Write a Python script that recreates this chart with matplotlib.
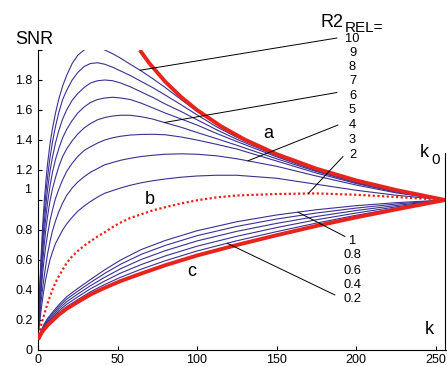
import numpy as np
import matplotlib
matplotlib.use('Agg')
import matplotlib.pyplot as plt

plt.rcParams['font.family'] = ['Liberation Sans', 'DejaVu Sans']

# ---------------- data ----------------
K0 = 256

# upper family (R2_REL = 10 ... 3) and curve b (R2_REL = 2)
k_up = [0, 0.5, 1, 2, 3, 4, 5, 6, 7.5, 9, 11, 13, 15.5, 18, 21.5, 25, 29, 33, 37.5, 42,
        47, 52, 58, 65, 72, 80, 90, 100, 112, 125, 150, 175, 200, 225, 256]
snr_r10 = [0.07, 0.27, 0.40, 0.64, 0.84, 1.00, 1.13, 1.24, 1.37, 1.47, 1.58, 1.67, 1.76, 1.83, 1.91,
           1.965, 2.0, 2.02, 2.02, 2.0, 1.975, 1.945, 1.905, 1.86, 1.81, 1.75, 1.67, 1.59, 1.505, 1.425,
           1.303, 1.207, 1.13, 1.066, 1.0]
snr_r9 = [0.07, 0.25, 0.37, 0.59, 0.78, 0.93, 1.05, 1.15, 1.28, 1.38, 1.49, 1.58, 1.67, 1.73, 1.80,
          1.85, 1.89, 1.91, 1.915, 1.905, 1.885, 1.86, 1.83, 1.79, 1.75, 1.70, 1.635, 1.568, 1.49, 1.418,
          1.30, 1.205, 1.128, 1.065, 1.0]
snr_r8 = [0.07, 0.235, 0.34, 0.55, 0.72, 0.86, 0.97, 1.07, 1.19, 1.28, 1.38, 1.46, 1.54, 1.60, 1.665,
          1.71, 1.75, 1.78, 1.795, 1.80, 1.795, 1.78, 1.755, 1.72, 1.685, 1.64, 1.59, 1.535, 1.47, 1.405,
          1.295, 1.20, 1.125, 1.063, 1.0]
snr_r7 = [0.07, 0.22, 0.31, 0.50, 0.66, 0.79, 0.89, 0.98, 1.09, 1.18, 1.27, 1.34, 1.415, 1.47, 1.53,
          1.58, 1.62, 1.65, 1.67, 1.68, 1.685, 1.68, 1.67, 1.645, 1.615, 1.58, 1.54, 1.50, 1.445, 1.39,
          1.288, 1.195, 1.12, 1.06, 1.0]
snr_r6 = [0.07, 0.20, 0.28, 0.45, 0.59, 0.71, 0.81, 0.89, 0.99, 1.07, 1.15, 1.22, 1.29, 1.34, 1.395,
          1.44, 1.48, 1.51, 1.535, 1.55, 1.56, 1.565, 1.565, 1.555, 1.54, 1.515, 1.485, 1.45, 1.41, 1.365,
          1.275, 1.19, 1.115, 1.057, 1.0]
snr_r5 = [0.07, 0.18, 0.25, 0.40, 0.52, 0.62, 0.70, 0.77, 0.86, 0.93, 1.01, 1.07, 1.135, 1.19, 1.245,
          1.29, 1.33, 1.355, 1.38, 1.40, 1.415, 1.425, 1.433, 1.437, 1.438, 1.435, 1.42, 1.40, 1.372, 1.34,
          1.26, 1.18, 1.11, 1.053, 1.0]
snr_r4 = [0.07, 0.16, 0.21, 0.33, 0.42, 0.50, 0.57, 0.64, 0.72, 0.79, 0.86, 0.92, 0.98, 1.03, 1.08,
          1.12, 1.155, 1.185, 1.21, 1.235, 1.25, 1.265, 1.278, 1.29, 1.298, 1.305, 1.308, 1.305, 1.295, 1.275,
          1.225, 1.16, 1.10, 1.048, 1.0]
snr_r3 = [0.07, 0.14, 0.18, 0.27, 0.35, 0.42, 0.48, 0.53, 0.60, 0.65, 0.71, 0.75, 0.80, 0.84, 0.885,
          0.925, 0.96, 0.99, 1.02, 1.045, 1.063, 1.08, 1.098, 1.115, 1.128, 1.14, 1.152, 1.16, 1.165, 1.165,
          1.145, 1.105, 1.065, 1.032, 1.0]
snr_b = [0.07, 0.10, 0.12, 0.17, 0.205, 0.24, 0.275, 0.31, 0.355, 0.40, 0.45, 0.49, 0.535, 0.58, 0.625,
         0.66, 0.695, 0.725, 0.757, 0.785, 0.82, 0.85, 0.88, 0.905, 0.93, 0.952, 0.977, 0.998, 1.017, 1.03,
         1.04, 1.044, 1.035, 1.02, 1.0]

# lower family (R2_REL = 1 ... 0.2) and curve c
k_low = [0, 1, 2, 4, 6, 9, 13, 18, 25, 33, 42, 52, 65, 80, 100, 125, 150, 175, 200, 225, 256]
snr_r1 = [0.07, 0.10, 0.13, 0.175, 0.21, 0.25, 0.30, 0.355, 0.41, 0.47, 0.535, 0.60, 0.67, 0.73, 0.795, 0.855, 0.90, 0.935, 0.962, 0.982, 1.0]
snr_r08 = [0.07, 0.098, 0.126, 0.168, 0.201, 0.239, 0.287, 0.339, 0.392, 0.45, 0.511, 0.572, 0.638, 0.697, 0.762, 0.824, 0.873, 0.913, 0.946, 0.973, 1.0]
snr_r06 = [0.07, 0.096, 0.122, 0.160, 0.191, 0.227, 0.273, 0.322, 0.373, 0.429, 0.485, 0.542, 0.604, 0.662, 0.727, 0.791, 0.844, 0.890, 0.930, 0.963, 1.0]
snr_r04 = [0.07, 0.094, 0.118, 0.153, 0.182, 0.216, 0.259, 0.305, 0.354, 0.408, 0.46, 0.513, 0.57, 0.627, 0.692, 0.758, 0.816, 0.868, 0.913, 0.954, 1.0]
snr_r02 = [0.07, 0.092, 0.114, 0.146, 0.173, 0.205, 0.247, 0.289, 0.336, 0.388, 0.437, 0.485, 0.539, 0.595, 0.66, 0.728, 0.789, 0.846, 0.898, 0.945, 1.0]
snr_c = [0.07, 0.09, 0.11, 0.14, 0.165, 0.195, 0.235, 0.275, 0.32, 0.37, 0.415, 0.46, 0.51, 0.565, 0.63, 0.70, 0.765, 0.827, 0.884, 0.937, 1.0]

# curve a (upper envelope)
k_a = [64, 70, 80, 90, 100, 115, 130, 150, 175, 200, 225, 256]
snr_a = [2.0, 1.912, 1.789, 1.687, 1.60, 1.492, 1.403, 1.306, 1.209, 1.131, 1.067, 1.0]

k0_line_top = 1.313

upper_labels = ['10', '9', '8', '7', '6', '5', '4', '3', '2']
lower_labels = ['1', '0.8', '0.6', '0.4', '0.2']

x_ticks = [0, 50, 100, 150, 200, 250]
y_ticks = [0, 0.2, 0.4, 0.6, 0.8, 1.0, 1.2, 1.4, 1.6, 1.8, 2.0]
y_tick_labels = ['0', '0.2', '0.4', '0.6', '0.8', '', '1.2', '1.4', '1.6', '1.8', '']

upper_series = [snr_r10, snr_r9, snr_r8, snr_r7, snr_r6, snr_r5, snr_r4, snr_r3]
lower_series = [snr_r1, snr_r08, snr_r06, snr_r04, snr_r02]
for s in upper_series + [snr_b]:
    assert len(s) == len(k_up), len(s)
for s in lower_series + [snr_c]:
    assert len(s) == len(k_low), len(s)

# ---------------- figure ----------------
W, H = 447, 366
fig = plt.figure(figsize=(W / 100, H / 100), dpi=100)


def fx(px):
    return px / W


def fy(py):
    return 1 - py / H


ax = fig.add_axes([fx(38), fy(350), 408 / W, 300 / H])
ax.set_xlim(0, 256.6)
ax.set_ylim(0, 2.0)

BLUE = '#3a3192'
RED = '#e8231c'

for s in upper_series:
    ax.plot(k_up, s, color=BLUE, lw=0.8, zorder=2)
for s in lower_series:
    ax.plot(k_low, s, color=BLUE, lw=0.8, zorder=2)

ax.plot(k_up, snr_b, color=RED, lw=1.6, ls=(0, (1, 1.1)), zorder=3)
ax.plot(k_a, snr_a, color=RED, lw=2.8, zorder=4, solid_capstyle='butt')
ax.plot(k_low, snr_c, color=RED, lw=2.8, zorder=4, solid_capstyle='butt')

# k0 vertical line
ax.plot([K0, K0], [0, k0_line_top], color='black', lw=0.8, clip_on=False, zorder=5)

# spines / ticks
ax.spines['top'].set_visible(False)
ax.spines['right'].set_visible(False)
for sp in ['left', 'bottom']:
    ax.spines[sp].set_linewidth(0.8)
ax.set_xticks(x_ticks)
ax.set_xticklabels([str(v) for v in x_ticks])
ax.set_yticks(y_ticks)
ax.set_yticklabels(y_tick_labels)
ax.tick_params(direction='in', length=3, width=0.8, labelsize=9)
ax.tick_params(axis='x', pad=2.6)
ax.tick_params(axis='y', pad=4.0)
fig.text(fx(31), fy(190), '1', ha='right', va='center', fontsize=9)

# axis titles
fig.text(fx(34), fy(40), 'SNR', ha='center', va='center', fontsize=13)
fig.text(fx(429), fy(330), 'k', ha='center', va='center', fontsize=13)
fig.text(fx(420), fy(157), 'k', ha='left', va='baseline', fontsize=13)
fig.text(fx(431.5), fy(164), '0', ha='left', va='baseline', fontsize=11)

# R2_REL label
fig.text(fx(320), fy(27), 'R2', ha='left', va='baseline', fontsize=13)
fig.text(fx(345), fy(31.5), 'REL=', ha='left', va='baseline', fontsize=11)

upper_y = [38.5, 53, 67.5, 81.5, 96, 110.5, 125, 140, 154.5]
for lab, py in zip(upper_labels, upper_y):
    fig.text(fx(352.5), fy(py), lab, ha='center', va='center', fontsize=9.3)
lower_y = [241.5, 255.5, 270.5, 285, 299.5]
for lab, py in zip(lower_labels, lower_y):
    fig.text(fx(352.5), fy(py), lab, ha='center', va='center', fontsize=9.3)

# curve letters
fig.text(fx(268), fy(134), 'a', ha='center', va='center', fontsize=13)
fig.text(fx(150), fy(199), 'b', ha='center', va='center', fontsize=13)
fig.text(fx(191.5), fy(271), 'c', ha='center', va='center', fontsize=13)

# leader lines
leaders = [
    ((337, 38), 64.2, k_up, snr_r10),
    ((337, 92.5), 79.5, k_up, snr_r6),
    ((338, 125), 132, k_up, snr_r4),
    ((343, 156.5), 170, k_up, snr_b),
    ((345, 236.5), 163.5, k_low, snr_r1),
    ((335, 295), 119, k_low, snr_r02),
]
for (px, py), kt, kk, s in leaders:
    yt = float(np.interp(kt, kk, s))
    ax.annotate('', xy=(kt, yt), xycoords='data',
                xytext=(fx(px), fy(py)), textcoords='figure fraction',
                arrowprops=dict(arrowstyle='-', lw=0.7, color='black',
                                shrinkA=0, shrinkB=0), zorder=6)

fig.savefig('out.png', dpi=100)
